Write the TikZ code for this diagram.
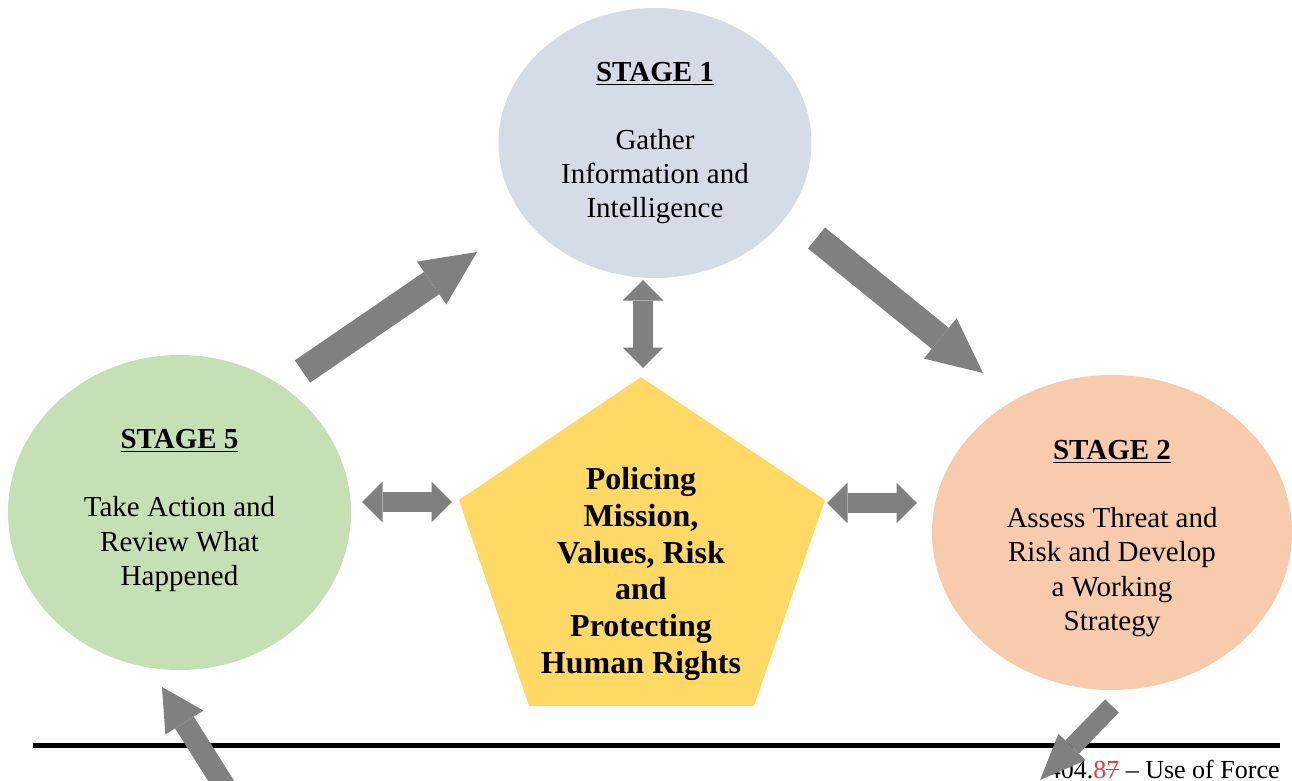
\documentclass[tikz,border=0pt]{standalone}
\usepackage{fontspec}
\setmainfont{Liberation Serif}
\usepackage{xcolor}
\usetikzlibrary{arrows.meta,shapes.geometric}
\definecolor{stageone}{HTML}{D6DCE5}
\definecolor{stagetwo}{HTML}{F8CBAD}
\definecolor{stagefive}{HTML}{C5E0B4}
\definecolor{corefill}{HTML}{FFD966}
\definecolor{flowgray}{HTML}{808080}
\definecolor{editred}{RGB}{228,60,60}
\newcommand{\struckdigit}[1]{\setbox0\hbox{#1}\rlap{\rule[0.3em]{\wd0}{0.06em}}\box0}

\begin{document}
\begin{tikzpicture}[x=0.5pt,y=-0.5pt,
    stage/.style={ellipse,inner sep=0pt},
    stagetext/.style={align=center,font=\fontsize{14.5}{17.2}\selectfont},
    bigflow/.style={flowgray,line width=13.5pt,-{Triangle[length=27.5pt,width=26pt,line width=0pt]}},
    smallflow/.style={flowgray,line width=11pt,-{Triangle[length=21pt,width=22.5pt,line width=0pt]}},
    outflow/.style={flowgray,line width=9.5pt,-{Triangle[length=23pt,width=19pt,line width=0pt]}},
    twoway/.style={flowgray,line width=9.75pt,{Triangle[length=10.25pt,width=20.25pt,line width=0pt]}-{Triangle[length=10.25pt,width=20.25pt,line width=0pt]}}]
      \useasboundingbox (0,0) rectangle (1292,781);
      \clip (0,0) rectangle (1292,781);
      \node [stage,fill=stageone,minimum width=156.5pt,minimum height=135pt] (s1) at (655,143) {};
      \node [stage,fill=stagefive,minimum width=171.5pt,minimum height=157.5pt] (s5) at (179.5,512.5) {};
      \node [stage,fill=stagetwo,minimum width=180pt,minimum height=157.5pt] (s2) at (1112,532.5) {};
      \node [stagetext] (s1txt) at (655,143)
      {\underline{\textbf{STAGE 1}}\\[16.8pt]Gather\\Information and\\Intelligence};
      \node [stagetext] (s5txt) at (179.5,510.5)
      {\underline{\textbf{STAGE 5}}\\[16.8pt]Take Action and\\Review What\\Happened};
      \node [stagetext] (s2txt) at (1112,538.5)
      {\underline{\textbf{STAGE 2}}\\[16.8pt]Assess Threat and\\Risk and Develop\\a Working\\Strategy};
      \fill [corefill] (641,377) -- (825,500) -- (754,706) -- (529,706) -- (459,500) -- cycle;
      \node [align=center,font=\fontsize{16}{18.4}\selectfont\bfseries] (core) at (641,574)
      {Policing\\Mission,\\Values, Risk\\and\\Protecting\\Human Rights};
      \draw [line width=2.5pt] (33,745.5) -- (1280,745.5);
      \node [anchor=base east,inner sep=0pt,font=\fontsize{13}{15}\selectfont] (foot) at (1280,778)
      {404.{\color{editred}8\struckdigit{7}} – Use of Force};
      \coordinate (v1) at (643,280);
      \coordinate (v2) at (643,368);
      \coordinate (l1) at (362,502);
      \coordinate (l2) at (452,502);
      \coordinate (r1) at (827,503);
      \coordinate (r2) at (917,503);
      \draw [twoway] (v1) -- (v2);
      \draw [twoway] (l1) -- (l2);
      \draw [twoway] (r1) -- (r2);
      \coordinate (up1) at (302.5,371.5);
      \coordinate (up2) at (477,252);
      \coordinate (dn1) at (816.5,238);
      \coordinate (dn2) at (983,373);
      \draw [bigflow] (up1) -- (up2);
      \draw [bigflow] (dn1) -- (dn2);
      \coordinate (out1) at (1112,706);
      \coordinate (out2) at (1040,780);
      \coordinate (in1) at (242,814);
      \coordinate (in2) at (162,687);
      \draw [outflow] (out1) -- (out2);
      \draw [smallflow] (in1) -- (in2);
\end{tikzpicture}
\end{document}
